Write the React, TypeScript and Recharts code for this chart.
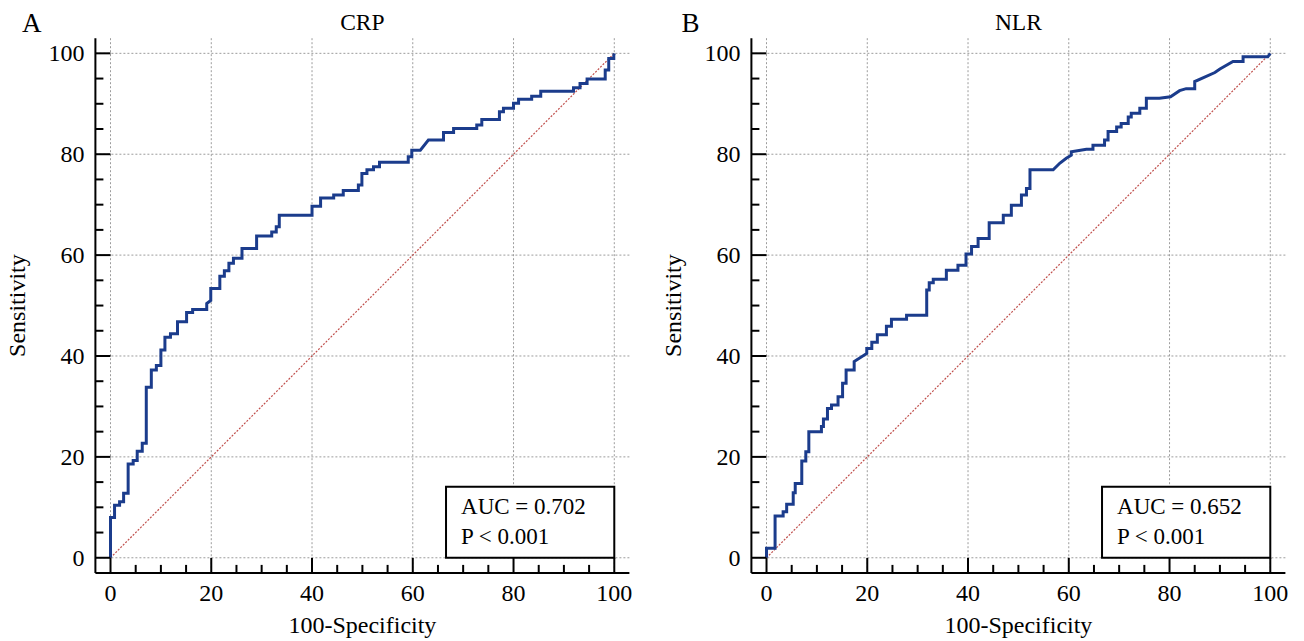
import React from "react";
import {
  CartesianGrid,
  ComposedChart,
  Label,
  Line,
  ReferenceArea,
  ReferenceLine,
  XAxis,
  YAxis,
} from "recharts";

// ROC vertices (100-Specificity, Sensitivity)
const crpFpr = [
  0, 0, 0.8, 0.8, 1.8, 1.8, 2.6, 2.6, 3.5, 3.5, 4.5, 4.5, 5.3, 5.3, 6.3, 6.3,
  7.1, 7.1, 8.1, 8.1, 9.1, 9.1, 10.0, 10.0, 10.8, 10.8, 11.9, 11.9, 13.3, 13.3,
  15.1, 15.1, 16.3, 16.3, 19.1, 19.1, 19.9, 19.9, 21.7, 21.7, 22.6, 22.6, 23.5,
  23.5, 24.4, 24.4, 26.1, 26.1, 29.0, 29.0, 32.0, 32.0, 32.9, 32.9, 33.5, 33.5,
  40.0, 40.0, 41.7, 41.7, 44.3, 44.3, 46.2, 46.2, 49.2, 49.2, 49.9, 49.9, 50.9,
  50.9, 52.2, 52.2, 53.4, 53.4, 59.1, 59.1, 59.8, 59.8, 61.5, 63.1, 66.1, 66.1,
  68.1, 68.1, 72.7, 72.7, 73.7, 73.7, 77.2, 77.2, 78.0, 78.0, 80.0, 80.0, 81.0,
  81.0, 83.6, 83.6, 85.4, 85.4, 91.9, 91.9, 93.2, 93.2, 94.6, 94.6, 98.2, 98.2,
  98.9, 98.9, 99.9, 99.9, 100,
];
const crpSens = [
  0, 8.0, 8.0, 10.4, 10.4, 11.1, 11.1, 12.8, 12.8, 18.6, 18.6, 19.3, 19.3, 21.1,
  21.1, 22.7, 22.7, 33.8, 33.8, 37.2, 37.2, 38.1, 38.1, 41.2, 41.2, 43.7, 43.7,
  44.4, 44.4, 46.8, 46.8, 48.6, 48.6, 49.2, 49.2, 50.4, 51.0, 53.4, 53.4, 55.8,
  55.8, 56.9, 56.9, 58.4, 58.4, 59.4, 59.4, 61.3, 61.3, 63.8, 63.8, 64.6, 64.6,
  65.6, 65.6, 67.9, 67.9, 69.7, 69.7, 71.3, 71.3, 71.9, 71.9, 72.8, 72.8, 73.9,
  73.9, 76.2, 76.2, 76.9, 76.9, 77.5, 77.5, 78.4, 78.4, 79.5, 79.5, 80.8, 80.8,
  82.8, 82.8, 84.3, 84.3, 85.1, 85.1, 85.8, 85.8, 86.9, 86.9, 88.4, 88.4, 89.1,
  89.1, 90.1, 90.1, 90.9, 90.9, 91.5, 91.5, 92.5, 92.5, 93.2, 93.2, 94.0, 94.0,
  94.9, 94.9, 96.7, 96.7, 99.0, 99.0, 99.6, 100,
];

const nlrFpr = [
  0, 0, 1.7, 1.7, 3.3, 3.3, 4.0, 4.0, 5.3, 5.3, 5.7, 5.7, 7.0, 7.0, 7.8, 7.8,
  8.4, 8.4, 10.9, 10.9, 11.3, 11.3, 12.1, 12.1, 12.9, 12.9, 14.2, 14.2, 15.1,
  15.1, 15.8, 15.8, 17.4, 17.4, 19.9, 19.9, 20.9, 20.9, 22.0, 22.0, 23.8, 23.8,
  24.8, 24.8, 27.8, 27.8, 31.8, 31.8, 32.3, 32.3, 33.1, 33.1, 35.7, 35.7, 38.0,
  38.0, 39.6, 39.6, 40.7, 40.7, 42.0, 42.0, 44.2, 44.2, 47.0, 47.0, 48.6, 48.6,
  50.6, 50.6, 51.6, 51.6, 52.3, 52.3, 56.9, 58.2, 59.5, 60.5, 60.5, 63.5, 64.8,
  64.8, 67.1, 67.1, 67.8, 67.8, 69.5, 69.5, 70.4, 70.4, 71.8, 71.8, 72.4, 72.4,
  74.1, 74.1, 75.4, 75.4, 78.0, 80.2, 82.0, 83.3, 85.0, 85.0, 89.0, 90.0, 92.6,
  94.6, 94.6, 99.5, 100,
];
const nlrSens = [
  0, 1.9, 1.9, 8.3, 8.3, 9.1, 9.1, 10.6, 10.6, 12.9, 12.9, 14.7, 14.7, 19.2,
  19.2, 21.0, 21.0, 25.0, 25.0, 26.0, 26.0, 27.5, 27.5, 29.6, 29.6, 30.3, 30.3,
  31.9, 31.9, 34.6, 34.6, 37.2, 37.2, 38.9, 40.5, 41.5, 41.5, 42.7, 42.7, 44.2,
  44.2, 45.9, 45.9, 47.3, 47.3, 48.1, 48.1, 53.1, 53.1, 54.5, 54.5, 55.2, 55.2,
  57.0, 57.0, 58.0, 58.0, 60.2, 60.2, 61.7, 61.7, 63.3, 63.3, 66.4, 66.4, 67.9,
  67.9, 69.9, 69.9, 71.9, 71.9, 73.2, 73.2, 76.9, 76.9, 78.2, 79.2, 79.8, 80.5,
  81.0, 81.0, 81.8, 81.8, 82.8, 82.8, 84.5, 84.5, 85.4, 85.4, 86.1, 86.1, 87.4,
  87.4, 88.1, 88.1, 89.1, 89.1, 91.1, 91.1, 91.4, 92.6, 93.0, 93.0, 94.4, 96.2,
  96.9, 98.4, 98.4, 99.3, 99.3, 100,
];

const panelLetters = ["A", "B"];
const markerNames = ["CRP", "NLR"];
const aucValues = ["0.702", "0.652"];
const pValues = ["0.001", "0.001"];

const axisTicks = [
  0, 5, 10, 15, 20, 25, 30, 35, 40, 45, 50, 55, 60, 65, 70, 75, 80, 85, 90, 95,
  100,
];
const gridTicks = [0, 20, 40, 60, 80, 100];

const FONT = "'Liberation Serif', 'Times New Roman', serif";
const CURVE = "#1b3c8c";

const XTick = ({ x, y, payload }: any) => {
  const major = gridTicks.includes(payload.value);
  return (
    <g>
      <line x1={x} x2={x} y1={y} y2={y - (major ? 15 : 8)} stroke="#000" strokeWidth={2} />
      {major && (
        <text x={x} y={y + 28} textAnchor="middle" fontFamily={FONT} fontSize={24} fill="#000">
          {payload.value}
        </text>
      )}
    </g>
  );
};

const YTick = ({ x, y, payload }: any) => {
  const major = gridTicks.includes(payload.value);
  return (
    <g>
      <line x1={x} x2={x + (major ? 15 : 8)} y1={y} y2={y} stroke="#000" strokeWidth={2} />
      {major && (
        <text x={x - 11} y={y + 8} textAnchor="end" fontFamily={FONT} fontSize={24} fill="#000">
          {payload.value}
        </text>
      )}
    </g>
  );
};

const AucBox = ({ viewBox, auc, p }: any) => {
  const { x, y } = viewBox;
  return (
    <g fontFamily={FONT} fontSize={23} fill="#000">
      <text x={x + 15} y={y + 27.5}>{`AUC = ${auc}`}</text>
      <text x={x + 15} y={y + 57.5}>{`P < ${p}`}</text>
    </g>
  );
};

function RocPanel({ idx, fpr, sens, left, letterX }: any) {
  const data = fpr.map((v: number, i: number) => ({ x: v, y: sens[i] }));
  return (
    <div style={{ position: "absolute", left, top: 0, width: 648, height: 641 }}>
      <ComposedChart
        width={648}
        height={641}
        data={data}
        margin={{ top: 38.2, right: 18.6, bottom: 8.1, left: 0 }}
      >
        <CartesianGrid
          stroke="#9c9c9c"
          strokeDasharray="2 2"
          horizontalValues={gridTicks}
          verticalValues={gridTicks}
        />
        <XAxis
          type="number"
          dataKey="x"
          domain={[-3, 103]}
          ticks={axisTicks}
          interval={0}
          height={60}
          tickSize={0}
          tickMargin={0}
          tickLine={false}
          tick={<XTick />}
          axisLine={{ stroke: "#000", strokeWidth: 2 }}
          allowDataOverflow
        >
          <Label
            value="100-Specificity"
            position="insideBottom"
            offset={0}
            style={{ fontFamily: FONT, fontSize: 24, fill: "#000" }}
          />
        </XAxis>
        <YAxis
          type="number"
          dataKey="y"
          domain={[-3, 103]}
          ticks={axisTicks}
          interval={0}
          width={95.4}
          tickSize={0}
          tickMargin={0}
          tickLine={false}
          tick={<YTick />}
          axisLine={{ stroke: "#000", strokeWidth: 2 }}
          allowDataOverflow
        >
          <Label
            value="Sensitivity"
            angle={-90}
            position="insideLeft"
            offset={16.5}
            style={{ fontFamily: FONT, fontSize: 24, fill: "#000", textAnchor: "middle" }}
          />
        </YAxis>
        <ReferenceLine
          segment={[
            { x: 0, y: 0 },
            { x: 100, y: 100 },
          ]}
          stroke="#c0504d"
          strokeWidth={1.2}
          strokeDasharray="2 1.5"
        />
        <ReferenceArea
          x1={66.6}
          x2={100}
          y1={0}
          y2={14.1}
          fill="#ffffff"
          fillOpacity={1}
          stroke="#000"
          strokeWidth={2}
          label={<AucBox auc={aucValues[idx]} p={pValues[idx]} />}
        />
        <Line
          type="linear"
          dataKey="y"
          stroke={CURVE}
          strokeWidth={3}
          dot={false}
          activeDot={false}
          isAnimationActive={false}
        />
      </ComposedChart>
      <svg
        width={648}
        height={641}
        style={{ position: "absolute", left: 0, top: 0, pointerEvents: "none" }}
      >
        <text x={letterX} y={32} fontFamily={FONT} fontSize={27} fill="#000">
          {panelLetters[idx]}
        </text>
        <text x={362.4} y={30} textAnchor="middle" fontFamily={FONT} fontSize={23.5} fill="#000">
          {markerNames[idx]}
        </text>
      </svg>
    </div>
  );
}

export default function App() {
  return (
    <div
      style={{
        position: "absolute",
        left: 0,
        top: 0,
        width: 1304,
        height: 641,
        background: "#fff",
        overflow: "hidden",
      }}
    >
      <RocPanel idx={0} fpr={crpFpr} sens={crpSens} left={0} letterX={22} />
      <RocPanel idx={1} fpr={nlrFpr} sens={nlrSens} left={656} letterX={25.5} />
    </div>
  );
}
